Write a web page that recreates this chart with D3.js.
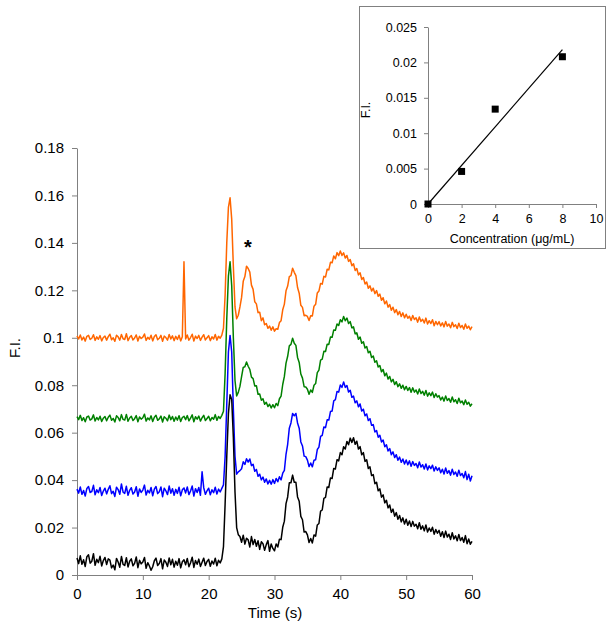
<!DOCTYPE html>
<html>
<head>
<meta charset="utf-8">
<script src="https://cdn.jsdelivr.net/npm/d3@7/dist/d3.min.js"></script>
<style>
html,body{margin:0;padding:0;background:#fff;}
svg{display:block;font-family:"Liberation Sans",Arial,sans-serif;}
</style>
</head>
<body>
<svg id="chart" width="614" height="639"></svg>
<script>
// ---------- DATA ----------
const sampleInterval = 0.25; // seconds between samples, from t = 0 to 60 s
const xTicks = [0, 10, 20, 30, 40, 50, 60];
const yTicks = [0, 0.02, 0.04, 0.06, 0.08, 0.1, 0.12, 0.14, 0.16, 0.18];
const yTickLabels = ["0", "0.02", "0.04", "0.06", "0.08", "0.1", "0.12", "0.14", "0.16", "0.18"];

const orangeTrace = [
0.1008,0.0995,0.1012,0.0991,0.1003,0.0986,0.1006,0.1010,0.0993,0.0998,0.1013,0.0989,0.1004,0.0994,0.1009,0.0987,0.1001,0.1007,0.0990,0.1005,
0.1015,0.0992,0.1000,0.0985,0.1011,0.1004,0.0990,0.1014,0.0996,0.0993,0.1017,0.0988,0.1002,0.1009,0.0991,0.0999,0.1012,0.0986,0.1006,0.0997,
0.1003,0.1016,0.0989,0.1002,0.0994,0.1011,0.0987,0.1005,0.1013,0.0992,0.0998,0.1010,0.0985,0.1007,0.1001,0.0990,0.1014,0.0995,0.1008,0.0988,
0.1006,0.0993,0.1011,0.0987,0.1004,0.1320,0.0995,0.1012,0.0990,0.1001,0.1015,0.0986,0.1007,0.0997,0.1010,0.0989,0.1003,0.1013,0.0991,0.1000,
0.1009,0.0988,0.1004,0.0995,0.1014,0.0990,0.1006,0.0998,0.1011,0.1040,0.1180,0.1400,0.1550,0.1590,0.1500,0.1300,0.1130,0.1080,0.1095,0.1130,
0.1170,0.1238,0.1258,0.1302,0.1292,0.1277,0.1222,0.1204,0.1152,0.1143,0.1106,0.1108,0.1072,0.1084,0.1055,0.1060,0.1040,0.1049,0.1032,0.1046,
0.1028,0.1038,0.1036,0.1064,0.1072,0.1118,0.1142,0.1198,0.1218,0.1258,0.1262,0.1293,0.1276,0.1262,0.1212,0.1188,0.1137,0.1128,0.1093,0.1095,
0.1090,0.1073,0.1093,0.1092,0.1133,0.1141,0.1189,0.1197,0.1229,0.1226,0.1259,0.1256,0.1289,0.1286,0.1318,0.1316,0.1345,0.1333,0.1359,0.1346,
0.1366,0.1347,0.1358,0.1336,0.1347,0.1322,0.1330,0.1304,0.1312,0.1284,0.1292,0.1265,0.1274,0.1246,0.1254,0.1227,0.1235,0.1209,0.1219,0.1197,
0.1209,0.1186,0.1199,0.1175,0.1184,0.1158,0.1169,0.1143,0.1155,0.1129,0.1140,0.1116,0.1129,0.1106,0.1119,0.1097,0.1111,0.1090,0.1105,0.1084,
0.1099,0.1082,0.1091,0.1073,0.1094,0.1077,0.1084,0.1066,0.1088,0.1069,0.1078,0.1062,0.1083,0.1058,0.1072,0.1060,0.1076,0.1051,0.1069,0.1055,
0.1068,0.1050,0.1063,0.1046,0.1069,0.1049,0.1058,0.1042,0.1065,0.1047,0.1055,0.1039,0.1061,0.1043,0.1052,0.1036,0.1058,0.1040,0.1049,0.1034,
0.1047];

const greenTrace = [
0.0668,0.0655,0.0673,0.0651,0.0663,0.0646,0.0666,0.0670,0.0653,0.0658,0.0675,0.0649,0.0664,0.0654,0.0669,0.0647,0.0661,0.0668,0.0650,0.0665,
0.0674,0.0652,0.0660,0.0645,0.0671,0.0664,0.0650,0.0676,0.0656,0.0653,0.0677,0.0648,0.0662,0.0669,0.0651,0.0659,0.0672,0.0646,0.0666,0.0657,
0.0663,0.0678,0.0649,0.0662,0.0654,0.0671,0.0647,0.0665,0.0673,0.0652,0.0658,0.0670,0.0645,0.0667,0.0661,0.0650,0.0674,0.0655,0.0668,0.0648,
0.0666,0.0653,0.0671,0.0647,0.0664,0.0669,0.0655,0.0672,0.0650,0.0661,0.0675,0.0646,0.0667,0.0657,0.0670,0.0649,0.0663,0.0673,0.0651,0.0660,
0.0669,0.0650,0.0664,0.0657,0.0676,0.0652,0.0668,0.0660,0.0673,0.0690,0.0850,0.1080,0.1260,0.1320,0.1220,0.1000,0.0820,0.0755,0.0770,0.0795,
0.0836,0.0875,0.0878,0.0898,0.0880,0.0867,0.0834,0.0828,0.0797,0.0798,0.0762,0.0763,0.0737,0.0743,0.0720,0.0728,0.0710,0.0720,0.0704,0.0718,
0.0705,0.0723,0.0714,0.0743,0.0754,0.0803,0.0837,0.0893,0.0922,0.0966,0.0972,0.0998,0.0977,0.0968,0.0917,0.0896,0.0847,0.0830,0.0794,0.0793,
0.0783,0.0762,0.0780,0.0770,0.0800,0.0807,0.0853,0.0864,0.0906,0.0910,0.0943,0.0942,0.0973,0.0972,0.1003,0.1002,0.1033,0.1032,0.1058,0.1052,
0.1076,0.1067,0.1090,0.1072,0.1083,0.1060,0.1068,0.1042,0.1046,0.1017,0.1021,0.0994,0.1003,0.0977,0.0983,0.0957,0.0963,0.0937,0.0943,0.0917,
0.0923,0.0897,0.0903,0.0877,0.0883,0.0857,0.0866,0.0840,0.0851,0.0826,0.0837,0.0814,0.0825,0.0803,0.0815,0.0794,0.0806,0.0787,0.0800,0.0781,
0.0795,0.0778,0.0790,0.0770,0.0789,0.0771,0.0780,0.0763,0.0784,0.0765,0.0774,0.0758,0.0778,0.0754,0.0768,0.0756,0.0771,0.0748,0.0764,0.0750,
0.0756,0.0738,0.0750,0.0733,0.0755,0.0736,0.0744,0.0728,0.0750,0.0730,0.0739,0.0723,0.0745,0.0726,0.0733,0.0718,0.0738,0.0720,0.0728,0.0712,
0.0722];

const blueTrace = [
0.0362,0.0345,0.0371,0.0340,0.0356,0.0333,0.0365,0.0373,0.0348,0.0352,0.0378,0.0338,0.0359,0.0347,0.0369,0.0335,0.0354,0.0366,0.0342,0.0361,
0.0376,0.0343,0.0353,0.0331,0.0370,0.0360,0.0340,0.0384,0.0349,0.0344,0.0374,0.0336,0.0357,0.0368,0.0341,0.0350,0.0372,0.0332,0.0363,0.0348,
0.0358,0.0379,0.0337,0.0357,0.0346,0.0369,0.0334,0.0362,0.0373,0.0343,0.0351,0.0371,0.0330,0.0366,0.0355,0.0339,0.0375,0.0345,0.0364,0.0336,
0.0361,0.0344,0.0370,0.0334,0.0359,0.0367,0.0346,0.0371,0.0339,0.0354,0.0375,0.0333,0.0364,0.0348,0.0369,0.0336,0.0435,0.0368,0.0340,0.0355,
0.0366,0.0338,0.0359,0.0347,0.0370,0.0341,0.0362,0.0350,0.0365,0.0380,0.0500,0.0720,0.0940,0.1010,0.0940,0.0700,0.0500,0.0425,0.0435,0.0440,
0.0448,0.0477,0.0466,0.0490,0.0476,0.0489,0.0461,0.0467,0.0437,0.0445,0.0416,0.0425,0.0401,0.0413,0.0391,0.0405,0.0384,0.0399,0.0383,0.0402,
0.0386,0.0407,0.0393,0.0414,0.0401,0.0429,0.0441,0.0509,0.0551,0.0619,0.0641,0.0681,0.0671,0.0681,0.0641,0.0619,0.0561,0.0544,0.0501,0.0499,
0.0484,0.0457,0.0472,0.0456,0.0484,0.0486,0.0529,0.0539,0.0584,0.0589,0.0624,0.0621,0.0654,0.0653,0.0689,0.0691,0.0734,0.0739,0.0774,0.0771,
0.0801,0.0791,0.0814,0.0791,0.0799,0.0771,0.0779,0.0749,0.0754,0.0726,0.0734,0.0709,0.0721,0.0691,0.0699,0.0671,0.0679,0.0651,0.0659,0.0631,
0.0634,0.0603,0.0609,0.0581,0.0589,0.0561,0.0569,0.0541,0.0549,0.0523,0.0533,0.0507,0.0519,0.0495,0.0507,0.0484,0.0497,0.0475,0.0489,0.0468,
0.0485,0.0465,0.0481,0.0458,0.0478,0.0462,0.0470,0.0452,0.0476,0.0455,0.0465,0.0447,0.0468,0.0443,0.0460,0.0448,0.0463,0.0438,0.0456,0.0441,
0.0452,0.0431,0.0446,0.0426,0.0451,0.0429,0.0440,0.0421,0.0446,0.0424,0.0434,0.0416,0.0442,0.0419,0.0428,0.0410,0.0436,0.0402,0.0425,0.0396,
0.0418];

const blackTrace = [
0.0072,0.0048,0.0081,0.0045,0.0064,0.0036,0.0077,0.0085,0.0050,0.0058,0.0090,0.0041,0.0066,0.0052,0.0079,0.0038,0.0061,0.0074,0.0044,0.0068,
0.0063,0.0030,0.0042,0.0022,0.0070,0.0055,0.0033,0.0078,0.0045,0.0040,0.0073,0.0034,0.0058,0.0068,0.0039,0.0049,0.0076,0.0031,0.0062,0.0047,
0.0055,0.0074,0.0028,0.0052,0.0038,0.0020,0.0035,0.0060,0.0071,0.0040,0.0048,0.0069,0.0026,0.0063,0.0054,0.0036,0.0072,0.0043,0.0066,0.0033,
0.0058,0.0041,0.0069,0.0030,0.0056,0.0064,0.0043,0.0070,0.0035,0.0052,0.0075,0.0032,0.0061,0.0045,0.0067,0.0036,0.0054,0.0071,0.0040,0.0057,
0.0066,0.0037,0.0059,0.0046,0.0071,0.0039,0.0062,0.0051,0.0068,0.0120,0.0300,0.0500,0.0680,0.0760,0.0740,0.0580,0.0350,0.0200,0.0170,0.0162,
0.0138,0.0168,0.0130,0.0155,0.0148,0.0118,0.0162,0.0128,0.0150,0.0121,0.0144,0.0108,0.0140,0.0132,0.0104,0.0128,0.0145,0.0100,0.0131,0.0112,
0.0102,0.0131,0.0118,0.0151,0.0149,0.0201,0.0227,0.0301,0.0329,0.0389,0.0389,0.0421,0.0391,0.0391,0.0329,0.0311,0.0247,0.0233,0.0181,0.0183,
0.0169,0.0137,0.0154,0.0135,0.0169,0.0164,0.0211,0.0217,0.0269,0.0274,0.0323,0.0327,0.0371,0.0369,0.0409,0.0407,0.0449,0.0447,0.0486,0.0481,
0.0516,0.0507,0.0541,0.0531,0.0563,0.0549,0.0577,0.0559,0.0579,0.0551,0.0564,0.0531,0.0541,0.0507,0.0516,0.0479,0.0486,0.0449,0.0456,0.0419,
0.0423,0.0385,0.0391,0.0355,0.0363,0.0328,0.0338,0.0304,0.0315,0.0283,0.0295,0.0264,0.0278,0.0248,0.0263,0.0235,0.0251,0.0224,0.0241,0.0215,
0.0235,0.0210,0.0228,0.0204,0.0226,0.0206,0.0214,0.0195,0.0220,0.0193,0.0207,0.0186,0.0211,0.0181,0.0198,0.0184,0.0201,0.0172,0.0192,0.0176,
0.0188,0.0163,0.0182,0.0158,0.0185,0.0160,0.0172,0.0150,0.0178,0.0152,0.0165,0.0144,0.0171,0.0145,0.0158,0.0138,0.0166,0.0132,0.0152,0.0130,
0.0142];

// Inset calibration
const concentrations = [0, 2, 4, 8];
const insetFI = [0, 0.0046, 0.0134, 0.0208];
const fitLineX = [0, 8];
const fitLineY = [0, 0.0218];
const insetXTicks = [0, 2, 4, 6, 8, 10];
const insetYTicks = [0, 0.005, 0.01, 0.015, 0.02, 0.025];
const insetYTickLabels = ["0", "0.005", "0.01", "0.015", "0.02", "0.025"];

const traces = [
  {name: "orange", values: orangeTrace, color: "#ff6600"},
  {name: "green", values: greenTrace, color: "#008000"},
  {name: "blue", values: blueTrace, color: "#0000ff"},
  {name: "black", values: blackTrace, color: "#000000"}
];

// ---------- DRAW ----------
const svg = d3.select("#chart");
const axisColor = "#808080";
const font = '"Liberation Sans", Arial, sans-serif';

const x = d3.scaleLinear().domain([0, 60]).range([77, 472]);
const y = d3.scaleLinear().domain([0, 0.18]).range([575, 148]);

function styleAxis(g, fs) {
  g.select(".domain").attr("stroke", axisColor).attr("stroke-width", 1);
  g.selectAll(".tick line").attr("stroke", axisColor);
  g.selectAll(".tick text").attr("fill", "#000").style("font-family", font).style("font-size", fs + "px");
}

const xAxis = svg.append("g").attr("transform", "translate(0,575)")
  .call(d3.axisBottom(x).tickValues(xTicks).tickSize(5).tickSizeOuter(0).tickPadding(8).tickFormat(d3.format("d")));
styleAxis(xAxis, 15);

const yAxis = svg.append("g").attr("transform", "translate(77,0)")
  .call(d3.axisLeft(y).tickValues(yTicks).tickSize(5).tickSizeOuter(0).tickPadding(8)
    .tickFormat((d, i) => yTickLabels[i]));
styleAxis(yAxis, 15);

const line = d3.line()
  .x((d, i) => x(i * sampleInterval))
  .y(d => y(d));

traces.forEach(tr => {
  svg.append("path")
    .datum(tr.values)
    .attr("fill", "none")
    .attr("stroke", tr.color)
    .attr("stroke-width", 1.5)
    .attr("stroke-linejoin", "round")
    .attr("d", line);
});

svg.append("text").attr("x", 275).attr("y", 618).attr("text-anchor", "middle")
  .style("font-family", font).style("font-size", "15px").text("Time (s)");
svg.append("text").attr("transform", "translate(20,348) rotate(-90)").attr("text-anchor", "middle")
  .style("font-family", font).style("font-size", "15px").text("F.I.");
svg.append("text").attr("x", 248).attr("y", 254).attr("text-anchor", "middle")
  .style("font-family", font).style("font-size", "20px").style("font-weight", "bold").text("*");

// ---------- INSET ----------
svg.append("rect").attr("x", 359.5).attr("y", 6.5).attr("width", 246).attr("height", 242)
  .attr("fill", "#fff").attr("stroke", axisColor).attr("stroke-width", 1);

const ix = d3.scaleLinear().domain([0, 10]).range([428, 596]);
const iy = d3.scaleLinear().domain([0, 0.025]).range([204, 27]);

const ixAxis = svg.append("g").attr("transform", "translate(0,204)")
  .call(d3.axisBottom(ix).tickValues(insetXTicks).tickSize(4).tickSizeOuter(0).tickPadding(6).tickFormat(d3.format("d")));
styleAxis(ixAxis, 12.5);
const iyAxis = svg.append("g").attr("transform", "translate(428,0)")
  .call(d3.axisLeft(iy).tickValues(insetYTicks).tickSize(4).tickSizeOuter(0).tickPadding(7)
    .tickFormat((d, i) => insetYTickLabels[i]));
styleAxis(iyAxis, 12.5);

svg.append("line")
  .attr("x1", ix(fitLineX[0])).attr("y1", iy(fitLineY[0]))
  .attr("x2", ix(fitLineX[1])).attr("y2", iy(fitLineY[1]))
  .attr("stroke", "#000").attr("stroke-width", 1.2);

svg.selectAll(".pt").data(concentrations).enter().append("rect")
  .attr("class", "pt")
  .attr("x", (d) => ix(d) - 3.5)
  .attr("y", (d, i) => iy(insetFI[i]) - 3.5)
  .attr("width", 7).attr("height", 7).attr("fill", "#000");

svg.append("text").attr("x", 512).attr("y", 243).attr("text-anchor", "middle")
  .style("font-family", font).style("font-size", "12.5px").text("Concentration (μg/mL)");
svg.append("text").attr("transform", "translate(370,110) rotate(-90)").attr("text-anchor", "middle")
  .style("font-family", font).style("font-size", "12.5px").text("F.I.");
</script>
</body>
</html>
